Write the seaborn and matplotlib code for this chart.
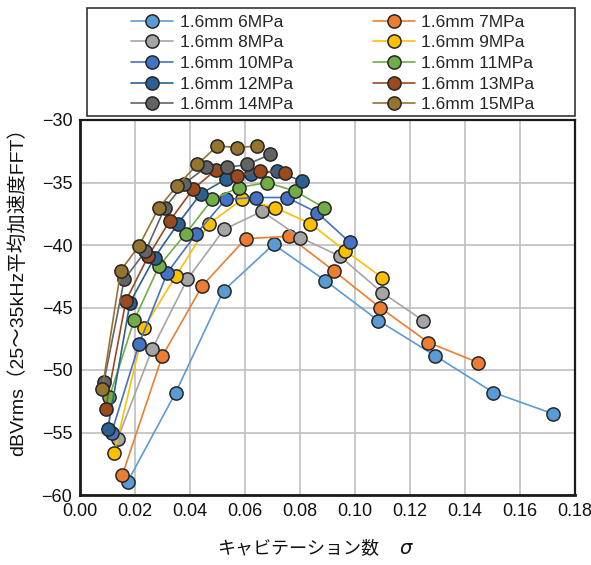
import matplotlib
matplotlib.use("Agg")
import matplotlib.pyplot as plt
import seaborn as sns
import pandas as pd
from matplotlib.patches import Rectangle

# ---- data ----
labels = ["1.6mm 6MPa", "1.6mm 7MPa", "1.6mm 8MPa", "1.6mm 9MPa", "1.6mm 10MPa",
          "1.6mm 11MPa", "1.6mm 12MPa", "1.6mm 13MPa", "1.6mm 14MPa", "1.6mm 15MPa"]

x6 = [0.0173, 0.0348, 0.0522, 0.0704, 0.0892, 0.1085, 0.1291, 0.1503, 0.1720]
y6 = [-58.95, -51.8, -43.65, -39.95, -42.85, -46.05, -48.85, -51.8, -53.5]
x7 = [0.0154, 0.0299, 0.0445, 0.0602, 0.0759, 0.0922, 0.1091, 0.1267, 0.1447]
y7 = [-58.4, -48.9, -43.25, -39.5, -39.3, -42.05, -45.0, -47.8, -49.4]
x8 = [0.0137, 0.0263, 0.0390, 0.0524, 0.0662, 0.0801, 0.0945, 0.1098, 0.1248]
y8 = [-55.5, -48.3, -42.75, -38.75, -37.3, -39.4, -40.9, -43.8, -46.05]
x9 = [0.0124, 0.0233, 0.0348, 0.0469, 0.0590, 0.0710, 0.0838, 0.0964, 0.1098]
y9 = [-56.65, -46.6, -42.5, -38.3, -36.35, -37.0, -38.3, -40.45, -42.6]
x10 = [0.0115, 0.0215, 0.0318, 0.0421, 0.0530, 0.0639, 0.0753, 0.0862, 0.0982]
y10 = [-55.0, -47.9, -42.2, -39.15, -36.35, -36.2, -36.2, -37.4, -39.8]
x11 = [0.0107, 0.0197, 0.0287, 0.0384, 0.0481, 0.0578, 0.0681, 0.0783, 0.0886]
y11 = [-52.15, -46.0, -41.7, -39.1, -36.35, -35.4, -35.0, -35.7, -37.0]
x12 = [0.0101, 0.0182, 0.0271, 0.0356, 0.0439, 0.0530, 0.0621, 0.0717, 0.0807]
y12 = [-54.7, -44.6, -41.0, -38.3, -35.9, -34.75, -34.35, -34.1, -34.9]
x13 = [0.0093, 0.0167, 0.0248, 0.0327, 0.0410, 0.0494, 0.0572, 0.0656, 0.0747]
y13 = [-53.1, -44.45, -40.9, -38.05, -35.55, -34.0, -34.45, -34.1, -34.2]
x14 = [0.0087, 0.0161, 0.0238, 0.0309, 0.0379, 0.0457, 0.0536, 0.0609, 0.0692]
y14 = [-50.95, -42.75, -40.5, -37.0, -35.1, -33.8, -33.8, -33.55, -32.75]
x15 = [0.0081, 0.0148, 0.0215, 0.0287, 0.0354, 0.0427, 0.0499, 0.0572, 0.0644]
y15 = [-51.5, -42.05, -40.05, -37.0, -35.25, -33.55, -32.08, -32.2, -32.08]

xs = [x6, x7, x8, x9, x10, x11, x12, x13, x14, x15]
ys = [y6, y7, y8, y9, y10, y11, y12, y13, y14, y15]

colors = ["#5B9BD5", "#ED7D31", "#A5A5A5", "#FFC000", "#4472C4",
          "#70AD47", "#2B6192", "#9A4A1E", "#636363", "#94742E"]

x_ticks = [0.00, 0.02, 0.04, 0.06, 0.08, 0.10, 0.12, 0.14, 0.16, 0.18]
y_ticks = [-60, -55, -50, -45, -40, -35, -30]

# ---- style ----
sns.set_style("white")
plt.rcParams['font.family'] = ['Liberation Sans', 'Noto Sans CJK JP', 'DejaVu Sans']
plt.rcParams['axes.unicode_minus'] = True

W, H = 591, 565
fig = plt.figure(figsize=(W / 100, H / 100), dpi=100)
ax = fig.add_axes([80 / W, 1 - 495 / H, 495 / W, 375 / H])

handles = []
for xv, yv, c, lab in zip(xs, ys, colors, labels):
    df = pd.DataFrame({"x": xv, "y": yv})
    sns.lineplot(data=df, x="x", y="y", ax=ax, color=c, marker="o", markersize=9.5,
                 markeredgecolor="#262626", markeredgewidth=1.1, linewidth=1.2,
                 estimator=None, sort=False, label=lab, legend=False)
    handles.append(ax.lines[-1])

ax.set_xlim(0, 0.18)
ax.set_ylim(-60, -30)
ax.set_xticks(x_ticks)
ax.set_yticks(y_ticks)
ax.set_xticklabels([f"{v:.2f}" for v in x_ticks])
ax.set_yticklabels([f"\u2212{abs(v)}" for v in y_ticks])
ax.tick_params(axis="both", length=0, labelsize=13, pad=5.5, colors="#111111")
ax.grid(True, color="#BFBFC4", linewidth=1.2)
ax.set_axisbelow(True)
for sp in ax.spines.values():
    sp.set_color("#1a1a1a")
    sp.set_linewidth(1.6)
ax.spines["left"].set_linewidth(2.0)
ax.spines["bottom"].set_linewidth(2.0)
ax.set_xlabel("")
ax.set_ylabel("dBVrms（25～35kHz平均加速度FFT）", fontsize=14, color="#111111")
ax.yaxis.set_label_coords(-53 / 495, 0.555)

fig.text(217 / W, 1 - 549 / H, "キャビテーション数", fontsize=13, va="center", ha="left", color="#111111")
fig.text(406 / W, 1 - 549 / H, "σ", fontsize=14, va="center", ha="center",
         style="italic", family=["DejaVu Sans"], color="#111111")

# legend box
fig.patches.append(Rectangle((87 / W, 1 - 116 / H), 488 / W, 108 / H, transform=fig.transFigure,
                             fill=False, edgecolor="#333333", linewidth=1.2))
# row-major order like the reference: column 1 = even entries, column 2 = odd entries
order = [0, 2, 4, 6, 8, 1, 3, 5, 7, 9]
fig.legend([handles[i] for i in order], [labels[i] for i in order], loc="center",
           bbox_to_anchor=(333 / W, 1 - 63.5 / H), ncol=2,
           frameon=False, fontsize=12.5, handlelength=2.4, handletextpad=0.4,
           columnspacing=4.6, labelspacing=0.32, borderpad=0.2)

fig.savefig("out.png", dpi=100)
